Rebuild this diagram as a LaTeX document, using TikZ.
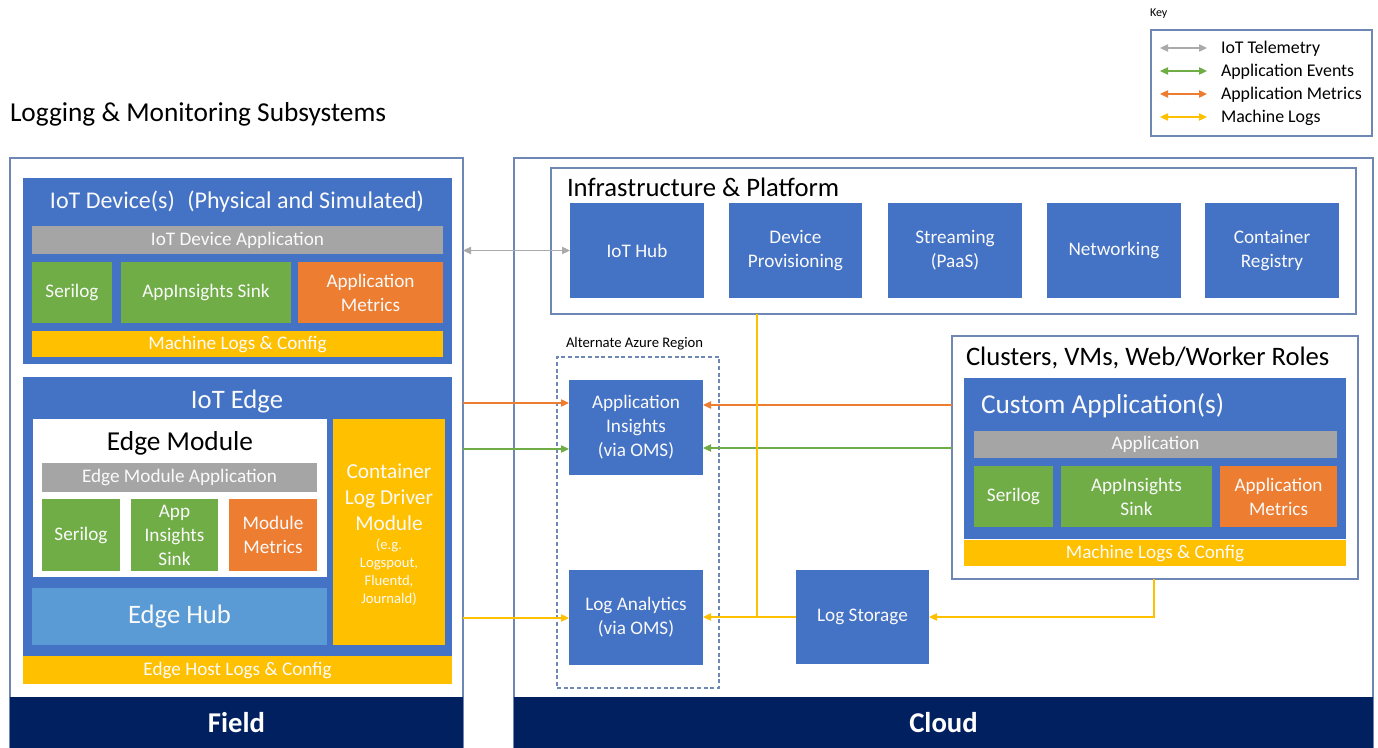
\documentclass[tikz,border=0pt]{standalone}
\usepackage{fontspec}
\setmainfont{Carlito}
\usetikzlibrary{arrows.meta}
\definecolor{cblue}{RGB}{68,114,196}
\definecolor{cgreen}{RGB}{112,173,71}
\definecolor{corange}{RGB}{237,125,49}
\definecolor{cgray}{RGB}{165,165,165}
\definecolor{cyellow}{RGB}{255,192,0}
\definecolor{clight}{RGB}{91,155,213}
\definecolor{cnavy}{RGB}{0,32,96}
\definecolor{cborder}{RGB}{110,135,180}
\definecolor{ctele}{RGB}{170,170,170}
\definecolor{ctxt}{RGB}{250,250,250}
\newcommand\mkbox[7]{\node[#6, minimum width={(#4-#2)*0.75pt}, minimum height={(#5-#3)*0.75pt}] (#1) at ({(#2+#4)/2},{(#3+#5)/2}) {#7};}
\begin{document}
\begin{tikzpicture}[x=0.75pt,y=-0.75pt,
  every node/.style={inner sep=0pt, outer sep=0pt, align=center},
  fnorm/.style={font=\fontsize{14.4}{18}\selectfont},
  ftitle/.style={font=\fontsize{20}{24}\selectfont},
  fsmall/.style={font=\fontsize{11}{13.5}\selectfont},
  bluebox/.style={fill=cblue, text=ctxt, fnorm},
  greenbox/.style={fill=cgreen, text=ctxt, fnorm},
  orangebox/.style={fill=corange, text=ctxt, fnorm},
  graybox/.style={fill=cgray, text=ctxt, fnorm},
  yellowbox/.style={fill=cyellow, text=ctxt, fnorm},
  lightbox/.style={fill=clight, text=ctxt, ftitle},
  whitebox/.style={fill=white},
  outerbox/.style={draw=cborder, line width=0.9pt, fill=white},
  dashbox/.style={draw=cborder, line width=0.9pt, dash pattern=on 3pt off 2pt},
  band/.style={fill=cnavy, text=white, font=\fontsize{21.5}{26}\selectfont\bfseries},
  conn/.style={line width=0.9pt},
  tele/.style={conn, draw=ctele, {Triangle[length=6pt,width=5.5pt]}-{Triangle[length=6pt,width=5.5pt]}},
  events/.style={conn, draw=cgreen},
  metrics/.style={conn, draw=corange},
  logs/.style={conn, draw=cyellow},
  tip/.style={-{Triangle[length=6pt,width=5.5pt]}},
  both/.style={{Triangle[length=6pt,width=5.5pt]}-{Triangle[length=6pt,width=5.5pt]}}
]
\useasboundingbox (0,0) rectangle (1378,748);

% Title
\node[anchor=west, font=\fontsize{20.5}{24}\selectfont] (maintitle) at (10,114) {Logging \& Monitoring Subsystems};

% Key
\node[anchor=west, font=\fontsize{9}{11}\selectfont] (keylabel) at (1150,14) {Key};
\mkbox{keybox}{1151}{30}{1372}{136}{outerbox}{}
\coordinate (k1a) at (1160,48); \coordinate (k1b) at (1207,48);
\coordinate (k2a) at (1160,71); \coordinate (k2b) at (1207,71);
\coordinate (k3a) at (1160,94); \coordinate (k3b) at (1207,94);
\coordinate (k4a) at (1160,117); \coordinate (k4b) at (1207,117);
\draw[tele] (k1a) -- (k1b);
\draw[events,both] (k2a) -- (k2b);
\draw[metrics,both] (k3a) -- (k3b);
\draw[logs,both] (k4a) -- (k4b);
\node[anchor=west, font=\fontsize{13.4}{16}\selectfont] (kt1) at (1221,49) {IoT Telemetry};
\node[anchor=west, font=\fontsize{13.4}{16}\selectfont] (kt2) at (1221,72) {Application Events};
\node[anchor=west, font=\fontsize{13.4}{16}\selectfont] (kt3) at (1221,95) {Application Metrics};
\node[anchor=west, font=\fontsize{13.4}{16}\selectfont] (kt4) at (1221,118) {Machine Logs};

% Field
\mkbox{field}{10}{158}{463}{748}{outerbox}{}
\mkbox{fieldband}{10}{697}{463}{748}{band}{Field}

% IoT Device
\mkbox{iotdev}{23}{178}{452}{364}{bluebox}{}
\node[text=ctxt, font=\fontsize{18}{22}\selectfont] (iotdevtitle) at (237,202) {IoT Device(s)\hspace{0.3em} (Physical and Simulated)};
\mkbox{devapp}{32}{226}{443}{254}{graybox}{IoT Device Application}
\mkbox{devserilog}{32}{262}{112}{323}{greenbox}{Serilog}
\mkbox{devsink}{121}{262}{291}{323}{greenbox}{AppInsights Sink}
\mkbox{devmetrics}{298}{262}{443}{323}{orangebox}{Application\\Metrics}
\mkbox{devlogs}{32}{331}{443}{357}{yellowbox}{Machine Logs \& Config}

% IoT Edge
\mkbox{edge}{23}{377}{452}{656}{bluebox}{}
\node[text=ctxt, ftitle] (edgetitle) at (237,402) {IoT Edge};
\mkbox{edgemod}{33}{419}{327}{577}{whitebox}{}
\node[font=\fontsize{20.5}{24}\selectfont] (edgemodtitle) at (180,443) {Edge Module};
\mkbox{edgeapp}{42}{463}{317}{492}{graybox}{Edge Module Application}
\mkbox{edgeserilog}{42}{499}{120}{571}{greenbox}{Serilog}
\mkbox{edgesink}{131}{499}{218}{571}{greenbox}{App\\Insights\\Sink}
\mkbox{edgemetrics}{229}{499}{317}{571}{orangebox}{Module\\Metrics}
\mkbox{edgehub}{32}{588}{327}{645}{lightbox}{Edge Hub}
\mkbox{logdriver}{333}{419}{445}{645}{yellowbox}{}
\node[text=ctxt, font=\fontsize{16}{19.5}\selectfont] (ldtext) at (389,497) {Container\\Log Driver\\Module};
\node[text=ctxt, fsmall] (ldsmall) at (389,572) {(e.g.\\Logspout,\\Fluentd,\\Journald)};
\mkbox{edgehost}{23}{656}{452}{684}{yellowbox}{Edge Host Logs \& Config}

% Cloud
\mkbox{cloud}{514}{158}{1373}{748}{outerbox}{}
\mkbox{cloudband}{514}{697}{1373}{748}{band}{Cloud}

% Infrastructure
\mkbox{infra}{551}{168}{1356}{314}{outerbox}{}
\node[anchor=west, ftitle] (infratitle) at (567,187) {Infrastructure \& Platform};
\mkbox{iothub}{570}{203}{704}{298}{bluebox}{IoT Hub}
\mkbox{dps}{729}{203}{862}{298}{bluebox}{Device\\Provisioning}
\mkbox{streaming}{888}{203}{1022}{298}{bluebox}{Streaming\\(PaaS)}
\mkbox{networking}{1047}{203}{1181}{298}{bluebox}{Networking}
\mkbox{registry}{1205}{203}{1339}{298}{bluebox}{Container\\Registry}

% Alternate region
\mkbox{altreg}{557}{357}{719}{688}{dashbox}{}
\node[anchor=west, fsmall] (altlabel) at (566,344) {Alternate Azure Region};
\mkbox{appins}{569}{380}{703}{475}{bluebox}{Application\\Insights\\(via OMS)}
\mkbox{loganal}{569}{570}{703}{665}{bluebox}{Log Analytics\\(via OMS)}
\mkbox{logstor}{796}{570}{929}{664}{bluebox}{Log Storage}

% Clusters
\mkbox{clusters}{952}{336}{1358}{579}{outerbox}{}
\node[anchor=west, ftitle] (clustitle) at (966,358) {Clusters, VMs, Web/Worker Roles};
\mkbox{custom}{964}{378}{1346}{539}{bluebox}{}
\node[anchor=west, text=ctxt, font=\fontsize{20.5}{24}\selectfont] (customtitle) at (981,406) {Custom Application(s)};
\mkbox{custapp}{974}{431}{1337}{458}{graybox}{Application}
\mkbox{custserilog}{974}{466}{1053}{527}{greenbox}{Serilog}
\mkbox{custsink}{1061}{466}{1212}{527}{greenbox}{AppInsights\\Sink}
\mkbox{custmetrics}{1220}{466}{1337}{527}{orangebox}{Application\\Metrics}
\mkbox{custlogs}{964}{540}{1346}{566}{yellowbox}{Machine Logs \& Config}

% Connectors
\draw[tele] (field.east |- iothub.west) -- (iothub.west);
\draw[metrics,tip] (field.east |- 0,403) -- (appins.west |- 0,403);
\draw[events,tip] (field.east |- 0,449) -- (appins.west |- 0,449);
\draw[metrics,tip] (clusters.west |- 0,405) -- (appins.east |- 0,405);
\draw[events,tip] (clusters.west |- 0,448) -- (appins.east |- 0,448);
\draw[logs,tip] (field.east |- 0,618) -- (loganal.west |- 0,618);
\coordinate (join) at (757,617);
\draw[logs] (infra.south -| join) -- (join);
\draw[logs,tip] (logstor.west) -- (loganal.east |- logstor.west);
\coordinate (cdrop) at (1154,617);
\draw[logs,tip] (clusters.south -| cdrop) -- (cdrop) -- (logstor.east);
\end{tikzpicture}
\end{document}
